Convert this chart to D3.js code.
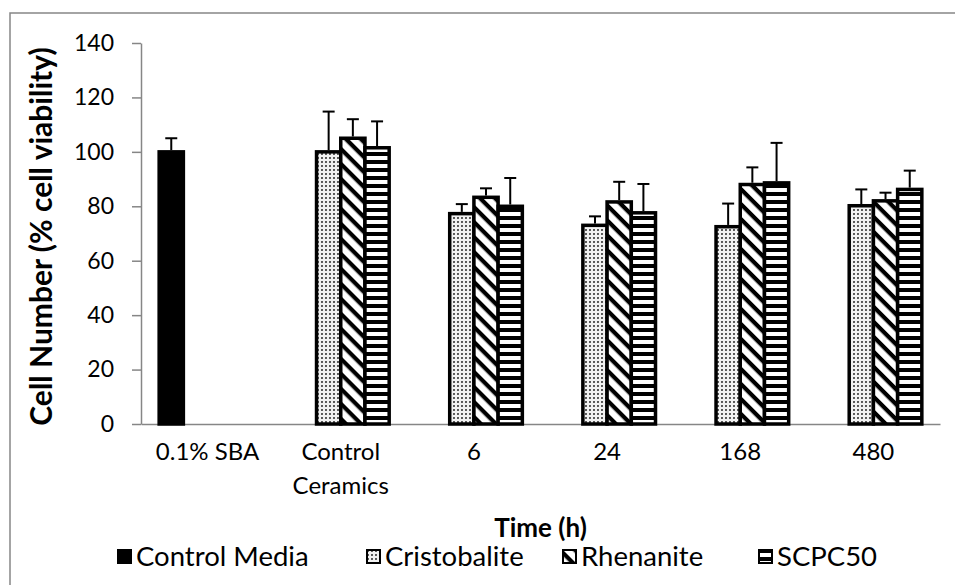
<!DOCTYPE html>
<html>
<head>
<meta charset="utf-8">
<script src="https://cdn.jsdelivr.net/npm/d3@7"></script>
<style>
  body { margin: 0; background: #fff; }
  text { font-family: Lato, "Open Sans", sans-serif; fill: #000; }
</style>
</head>
<body>
<svg id="chart" width="955" height="585"></svg>
<script>
// Cell viability by exposure time, mean with upward SD error bars
const categories = ["0.1% SBA", "Control Ceramics", "6", "24", "168", "480"];
const seriesNames = ["Control Media", "Cristobalite", "Rhenanite", "SCPC50"];
const controlMedia   = [100, null, null, null, null, null];
const controlMediaSD = [5, null, null, null, null, null];
const cristobalite   = [null, 100, 77.3, 73.0, 72.5, 80.2];
const cristobaliteSD = [null, 14.8, 3.5, 3.3, 8.5, 6.0];
const rhenanite      = [null, 105.0, 83.3, 81.6, 88.0, 82.0];
const rhenaniteSD    = [null, 7.0, 3.3, 7.4, 6.3, 3.0];
const scpc50         = [null, 101.5, 80.0, 77.6, 88.6, 86.2];
const scpc50SD       = [null, 9.7, 10.4, 10.6, 14.7, 6.9];
const yTicks = [0, 20, 40, 60, 80, 100, 120, 140];

const seriesValues = [controlMedia, cristobalite, rhenanite, scpc50];
const seriesSD = [controlMediaSD, cristobaliteSD, rhenaniteSD, scpc50SD];
const fills = ["#000", "url(#pat-dots)", "url(#pat-diag)", "url(#pat-horiz)"];

const svg = d3.select("#chart");
const axisColor = "#868686";
const plot = { left: 141, right: 940, top: 43, bottom: 424 };

// outer chart frame
svg.append("rect")
  .attr("x", 10).attr("y", 13).attr("width", 1000).attr("height", 1000)
  .attr("fill", "none").attr("stroke", axisColor).attr("stroke-width", 1.5);

// fill patterns
const defs = svg.append("defs");
const dots = defs.append("pattern").attr("id", "pat-dots")
  .attr("patternUnits", "userSpaceOnUse").attr("width", 4).attr("height", 4);
dots.append("rect").attr("width", 4).attr("height", 4).attr("fill", "#f2f2f2");
dots.append("circle").attr("cx", 2).attr("cy", 2).attr("r", 1.05).attr("fill", "#333");

const diag = defs.append("pattern").attr("id", "pat-diag")
  .attr("patternUnits", "userSpaceOnUse").attr("width", 10.6).attr("height", 10.6)
  .attr("patternTransform", "rotate(45)");
diag.append("rect").attr("width", 10.6).attr("height", 10.6).attr("fill", "#fff");
diag.append("rect").attr("width", 10.6).attr("height", 4.2).attr("fill", "#000");

const horiz = defs.append("pattern").attr("id", "pat-horiz")
  .attr("patternUnits", "userSpaceOnUse").attr("width", 8).attr("height", 8);
horiz.append("rect").attr("width", 8).attr("height", 8).attr("fill", "#fff");
horiz.append("rect").attr("width", 8).attr("height", 4).attr("fill", "#000");

// scales
const x = d3.scaleBand().domain(categories).range([plot.left, plot.right]).padding(0);
const xs = d3.scaleBand().domain(seriesNames).range([0, x.bandwidth()])
  .paddingInner(0).paddingOuter(0.75);
const y = d3.scaleLinear().domain([0, 140]).range([plot.bottom, plot.top]);

// y axis
const yAxis = svg.append("g").attr("transform", `translate(${plot.left},0)`)
  .call(d3.axisLeft(y).tickValues(yTicks).tickSize(9).tickPadding(18).tickSizeOuter(0));
yAxis.select(".domain").attr("stroke", axisColor).attr("stroke-width", 1.5);
yAxis.selectAll(".tick line").attr("stroke", axisColor).attr("stroke-width", 1.5);
yAxis.selectAll(".tick text").attr("font-size", 23).attr("font-family", "Lato");

// x axis line
const xAxis = svg.append("g").attr("transform", `translate(0,${plot.bottom})`)
  .call(d3.axisBottom(x).tickSize(0).tickSizeOuter(0).tickFormat(""));
xAxis.select(".domain").attr("stroke", axisColor).attr("stroke-width", 1.5);

// category labels (the two-word label wraps onto two lines)
const labelG = svg.append("g");
categories.forEach(c => {
  const lines = c === "Control Ceramics" ? c.split(" ") : [c];
  const t = labelG.append("text")
    .attr("x", x(c) + x.bandwidth() / 2).attr("y", 460)
    .attr("text-anchor", "middle").attr("font-size", 24);
  lines.forEach((ln, i) => {
    t.append("tspan").attr("x", x(c) + x.bandwidth() / 2)
      .attr("dy", i === 0 ? 0 : 34).text(ln);
  });
});

// bars
const rows = [];
seriesNames.forEach((s, si) => {
  categories.forEach((c, ci) => {
    const v = seriesValues[si][ci];
    if (v != null) rows.push({ s, si, c, v, sd: seriesSD[si][ci] });
  });
});

svg.append("g").selectAll("rect").data(rows).join("rect")
  .attr("x", d => x(d.c) + xs(d.s))
  .attr("y", d => y(d.v))
  .attr("width", xs.bandwidth())
  .attr("height", d => y(0) - y(d.v))
  .attr("fill", d => fills[d.si])
  .attr("stroke", "#000").attr("stroke-width", 3.5);

// error bars (upper only)
const eb = svg.append("g").attr("stroke", "#000").attr("stroke-width", 2);
rows.forEach(d => {
  const cx = x(d.c) + xs(d.s) + xs.bandwidth() / 2;
  eb.append("line").attr("x1", cx).attr("x2", cx)
    .attr("y1", y(d.v) - 1.75).attr("y2", y(d.v + d.sd));
  eb.append("line").attr("x1", cx - 6).attr("x2", cx + 6)
    .attr("y1", y(d.v + d.sd)).attr("y2", y(d.v + d.sd));
});

// axis titles
svg.append("text")
  .attr("transform", `translate(52,${(plot.top + plot.bottom) / 2 + 3}) rotate(-90)`)
  .attr("text-anchor", "middle").attr("font-size", 30).attr("font-weight", "bold")
  .text("Cell Number (% cell viability)");

svg.append("text")
  .attr("x", (plot.left + plot.right) / 2).attr("y", 537)
  .attr("text-anchor", "middle").attr("font-size", 26).attr("font-weight", "bold")
  .text("Time (h)");

// legend
const legendX = [117, 366, 562, 758];
const legend = svg.append("g");
seriesNames.forEach((s, i) => {
  const g = legend.append("g").attr("transform", `translate(${legendX[i]},549)`);
  g.append("rect").attr("x", 1).attr("y", 1).attr("width", 13).attr("height", 13)
    .attr("fill", fills[i]).attr("stroke", "#000").attr("stroke-width", 2);
  g.append("text").attr("x", 19).attr("y", 17).attr("font-size", 27.5).text(s);
});
</script>
</body>
</html>
